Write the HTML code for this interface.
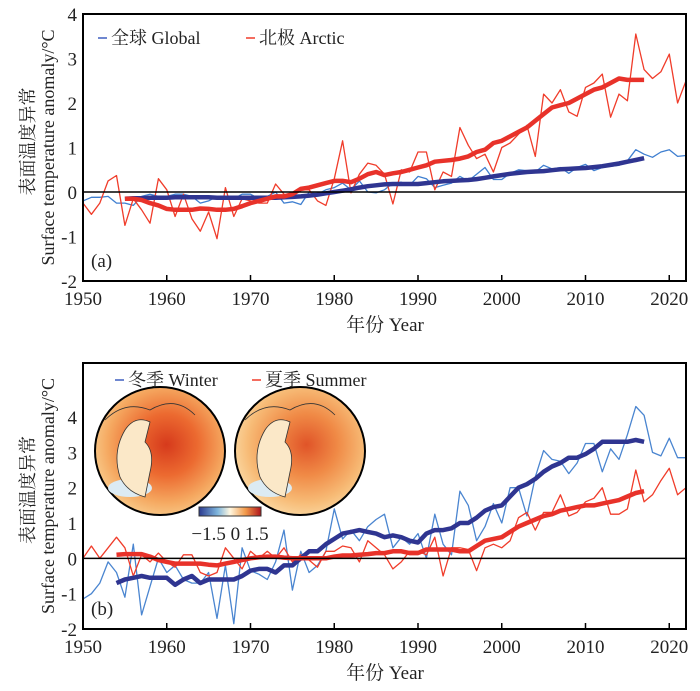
<!DOCTYPE html>
<html><head><meta charset="utf-8"><style>
body{margin:0;background:#fff}
svg text{font-family:"Liberation Serif","Noto Serif CJK SC",serif;fill:#222}
</style></head><body>
<svg id="c" width="700" height="686" xmlns="http://www.w3.org/2000/svg">
<defs>
<radialGradient id="g1" cx="0.55" cy="0.45" r="0.6"><stop offset="0" stop-color="#d63a1c"/><stop offset="0.4" stop-color="#ec6a30"/><stop offset="0.75" stop-color="#f5a860"/><stop offset="1" stop-color="#f9cf90"/></radialGradient>
<radialGradient id="g2" cx="0.55" cy="0.45" r="0.6"><stop offset="0" stop-color="#e05428"/><stop offset="0.4" stop-color="#f08a46"/><stop offset="0.75" stop-color="#f7bb76"/><stop offset="1" stop-color="#fbdca8"/></radialGradient>
<linearGradient id="cb"><stop offset="0" stop-color="#2b3a8f"/><stop offset="0.3" stop-color="#7fb6dd"/><stop offset="0.5" stop-color="#fff7e0"/><stop offset="0.75" stop-color="#f29a4a"/><stop offset="1" stop-color="#b0141c"/></linearGradient>
</defs>
</svg>
<script>
const years=[];for(let y=1950;y<=2022;y++)years.push(y);
const arcticAnnual=[-0.25,-0.5,-0.25,0.25,0.37,-0.75,-0.15,-0.4,-0.7,0.3,0.05,-0.55,-0.05,-0.6,-0.88,-0.45,-1.05,0.1,-0.55,-0.15,-0.2,-0.25,-0.25,0.18,-0.05,-0.1,0.05,0.05,-0.2,-0.3,0.3,1.15,-0.02,0.4,0.65,0.6,0.4,-0.27,0.5,0.45,0.9,0.9,0.05,0.45,0.35,1.45,1.05,0.75,0.85,0.45,1.0,1.1,1.3,1.5,0.8,2.2,2.0,2.3,1.8,1.7,2.35,2.45,2.65,1.68,2.2,2.05,3.55,2.75,2.55,2.7,3.1,2.0,2.5];
const arcticSmooth=[-0.15,-0.15,-0.18,-0.25,-0.3,-0.38,-0.4,-0.4,-0.4,-0.37,-0.38,-0.4,-0.4,-0.38,-0.32,-0.25,-0.2,-0.15,-0.1,-0.1,-0.05,0.07,0.1,0.15,0.2,0.25,0.25,0.22,0.3,0.4,0.45,0.38,0.42,0.45,0.5,0.55,0.6,0.68,0.7,0.72,0.75,0.8,0.9,0.95,1.1,1.15,1.25,1.35,1.45,1.6,1.75,1.9,1.95,2.0,2.1,2.2,2.3,2.35,2.45,2.55,2.52,2.52,2.52];
const globalAnnual=[-0.2,-0.12,-0.12,-0.1,-0.25,-0.25,-0.3,-0.1,-0.05,-0.1,-0.1,-0.05,-0.05,-0.1,-0.25,-0.2,-0.1,-0.12,-0.15,-0.05,-0.05,-0.15,-0.1,0.0,-0.25,-0.22,-0.28,0.0,-0.05,0.05,0.1,0.2,0.05,0.25,0.0,-0.02,0.05,0.2,0.22,0.15,0.35,0.3,0.1,0.15,0.2,0.35,0.25,0.4,0.55,0.28,0.28,0.42,0.5,0.48,0.45,0.6,0.52,0.55,0.42,0.55,0.62,0.48,0.55,0.58,0.6,0.7,0.95,0.85,0.78,0.9,0.95,0.8,0.82];
const globalSmooth=[-0.15,-0.14,-0.14,-0.13,-0.13,-0.13,-0.12,-0.12,-0.12,-0.12,-0.12,-0.13,-0.13,-0.13,-0.13,-0.13,-0.13,-0.13,-0.13,-0.12,-0.11,-0.1,-0.08,-0.06,-0.03,0.0,0.03,0.06,0.1,0.13,0.15,0.17,0.18,0.18,0.18,0.18,0.2,0.22,0.24,0.25,0.26,0.27,0.29,0.32,0.35,0.38,0.41,0.43,0.45,0.46,0.47,0.49,0.51,0.52,0.53,0.54,0.56,0.58,0.61,0.64,0.68,0.72,0.76];
const winterAnnual=[-1.15,-1.0,-0.7,-0.1,-0.4,-1.1,0.4,-1.6,-0.8,0.0,-0.4,-0.2,-0.6,-0.7,-0.7,-0.4,-1.7,-0.2,-1.85,0.3,-0.35,-0.45,-0.6,-0.1,0.8,-0.9,0.2,-0.4,-0.2,0.2,1.4,0.55,0.8,0.5,0.9,1.1,1.25,0.3,0.6,0.4,0.7,0.0,1.25,0.4,0.1,1.9,1.5,0.5,0.9,1.55,1.0,2.0,2.0,1.2,2.3,3.05,2.8,2.75,2.4,2.7,3.25,3.25,2.45,3.1,2.8,3.5,4.3,4.05,3.0,2.9,3.4,2.85,2.85];
const winterSmooth=[-0.7,-0.6,-0.55,-0.5,-0.55,-0.55,-0.55,-0.75,-0.6,-0.5,-0.7,-0.6,-0.6,-0.6,-0.6,-0.5,-0.35,-0.3,-0.3,-0.4,-0.2,-0.2,0.0,0.2,0.2,0.4,0.55,0.7,0.75,0.8,0.75,0.7,0.6,0.65,0.6,0.5,0.45,0.7,0.8,0.8,0.85,1.0,1.0,1.15,1.35,1.45,1.5,1.75,2.0,2.1,2.25,2.45,2.6,2.7,2.85,2.85,2.95,3.1,3.3,3.3,3.3,3.3,3.35,3.3];
const summerAnnual=[0.0,0.35,0.0,0.3,0.6,0.3,-0.5,0.1,-0.1,0.15,-0.1,-0.25,0.1,0.1,-0.4,-0.5,-0.4,0.3,0.0,-0.3,0.2,0.0,0.2,0.0,0.3,-0.1,0.1,-0.05,-0.25,0.2,0.2,0.35,0.3,-0.1,0.5,0.3,0.1,-0.3,-0.1,0.2,0.2,0.1,0.6,-0.5,0.3,0.3,0.25,-0.35,0.3,0.4,0.3,0.5,1.15,1.3,0.8,1.3,1.3,1.8,1.2,1.3,1.6,1.7,2.0,1.25,1.25,1.4,2.5,1.6,1.8,2.2,2.55,1.8,2.0];
const summerSmooth=[0.1,0.12,0.12,0.12,0.05,-0.05,-0.1,-0.15,-0.15,-0.15,-0.15,-0.18,-0.2,-0.15,-0.1,-0.05,0.0,0.03,0.05,0.05,0.02,0.0,0.0,0.0,0.0,0.0,0.05,0.08,0.08,0.1,0.12,0.15,0.15,0.2,0.2,0.15,0.15,0.25,0.25,0.25,0.25,0.2,0.2,0.35,0.5,0.55,0.6,0.75,0.9,1.0,1.1,1.2,1.25,1.35,1.4,1.45,1.5,1.5,1.55,1.6,1.65,1.75,1.85,1.9];
const xTicks=[1950,1960,1970,1980,1990,2000,2010,2020];
const yTicksA=[-2,-1,0,1,2,3,4];
const yTicksB=[-2,-1,0,1,2,3,4];

const svg=document.getElementById('c');const NS='http://www.w3.org/2000/svg';
function el(t,a,p){const e=document.createElementNS(NS,t);for(const k in a)e.setAttribute(k,a[k]);(p||svg).appendChild(e);return e;}
const X0=83,X1=686;
const xs=y=>X0+(y-1950)*(X1-X0)/72;

function panel(top,bottom,ymin,ymax,yt,series,label,legend,name,beforeLines){
  const g=el('g',{});
  
  
  const ys=v=>bottom-(v-ymin)*(bottom-top)/(ymax-ymin);
  if(beforeLines)beforeLines(g);
  const clip=el('clipPath',{id:'cl'+name},svg);el('rect',{x:X0,y:top,width:X1-X0,height:bottom-top},clip);
  for(const s of series){
    let d='';s.data.forEach((v,i)=>{d+=(i?'L':'M')+xs(s.start+i).toFixed(1)+','+ys(v).toFixed(1);});
    const p=el('path',{d,fill:'none',stroke:s.color,'stroke-width':s.w,'stroke-linejoin':'round','clip-path':'url(#cl'+name+')'},g);
    
    
  }
  const z=el('line',{x1:X0,x2:X1,y1:ys(0),y2:ys(0),stroke:'#000','stroke-width':1.5},g);
  
  
  const fr=el('rect',{x:X0,y:top,width:X1-X0,height:bottom-top,fill:'none',stroke:'#000','stroke-width':2},g);
  
  
  for(const t of xTicks){
    el('line',{x1:xs(t),x2:xs(t),y1:bottom,y2:bottom-6,stroke:'#000','stroke-width':1.5},g);
    const tx=el('text',{x:xs(t),y:bottom+24,'text-anchor':'middle','font-size':19},g);tx.textContent=t;
    
    
  }
  for(const t of yt){
    const tx=el('text',{x:X0-6,y:ys(t)+7,'text-anchor':'end','font-size':19},g);tx.textContent=t;
    
    
  }
  const lb=el('text',{x:X0+8,y:bottom-14,'font-size':19},g);lb.textContent=label;
  
  
  const xt=el('text',{x:385,y:bottom+50,'text-anchor':'middle','font-size':19},g);xt.textContent='年份 Year';
  
  
  const yt2=el('text',{transform:`translate(34,${(top+bottom)/2-6}) rotate(-90)`,'text-anchor':'middle','font-size':18},g);yt2.textContent='表面温度异常';
  
  
  const yt3=el('text',{transform:`translate(54,${(top+bottom)/2}) rotate(-90)`,'text-anchor':'middle','font-size':18},g);yt3.textContent='Surface temperature anomaly/°C';
  
  
  for(const L of legend){
    el('line',{x1:L.x,x2:L.x+9,y1:L.y-6,y2:L.y-6,stroke:L.color,'stroke-width':1.5},g);
    const t=el('text',{x:L.x+13,y:L.y,'font-size':18},g);t.textContent=L.text;
    
    
  }
  return ys;
}
panel(14,281,-2,4,yTicksA,[
 {data:globalAnnual,start:1950,color:'#3f7fd0',w:1.3,name:'global-annual-line'},
 {data:arcticAnnual,start:1950,color:'#f03c2a',w:1.3,name:'arctic-annual-line'},
 {data:globalSmooth,start:1955,color:'#2f3591',w:4.5,name:'global-smooth-line'},
 {data:arcticSmooth,start:1955,color:'#e8322a',w:4.5,name:'arctic-smooth-line'}
],'(a)',[{x:98,y:44,color:'#3f5fc0',text:'全球 Global'},{x:246,y:44,color:'#f03c2a',text:'北极 Arctic'}],'panel-a');

function insets(g){
  const ins=el('g',{},g);
  
  
  for(const [cx,f] of [[160,'url(#g1)'],[300,'url(#g2)']]){
    el('ellipse',{cx:cx,cy:451,rx:65,ry:64,fill:f,stroke:'#000','stroke-width':2},ins);
    el('ellipse',{cx:cx-30,cy:488,rx:22,ry:9,fill:'#dcebf3'},ins);
    el('path',{d:`M${cx-35},${430} q10,-15 25,-8 l-5,20 q10,10 5,30 l-5,25 q-18,-5 -25,-20 q-8,-25 5,-47z`,fill:'#fbe8c8',stroke:'#333','stroke-width':0.8},ins);
    el('path',{d:`M${cx-55},${420} q20,-20 45,-10 q25,-15 45,5`,fill:'none',stroke:'#333','stroke-width':0.8},ins);
  }
  el('rect',{x:199,y:507,width:62,height:9,fill:'url(#cb)',stroke:'#333','stroke-width':1},ins);
  const cbt=el('text',{x:230,y:540,'text-anchor':'middle','font-size':19},ins);cbt.textContent='−1.5  0  1.5';
  cbt.setAttribute('xml:space','preserve');
  
  
}

panel(363,629,-2,5.53,yTicksB,[
 {data:winterAnnual,start:1950,color:'#4a85d0',w:1.3,name:'winter-annual-line'},
 {data:summerAnnual,start:1950,color:'#f03c2a',w:1.3,name:'summer-annual-line'},
 {data:winterSmooth,start:1954,color:'#2f3591',w:4.5,name:'winter-smooth-line'},
 {data:summerSmooth,start:1954,color:'#e8322a',w:4.5,name:'summer-smooth-line'}
],'(b)',[{x:115,y:386,color:'#3f5fc0',text:'冬季 Winter'},{x:252,y:386,color:'#f03c2a',text:'夏季 Summer'}],'panel-b',insets);
</script>
</body></html>
